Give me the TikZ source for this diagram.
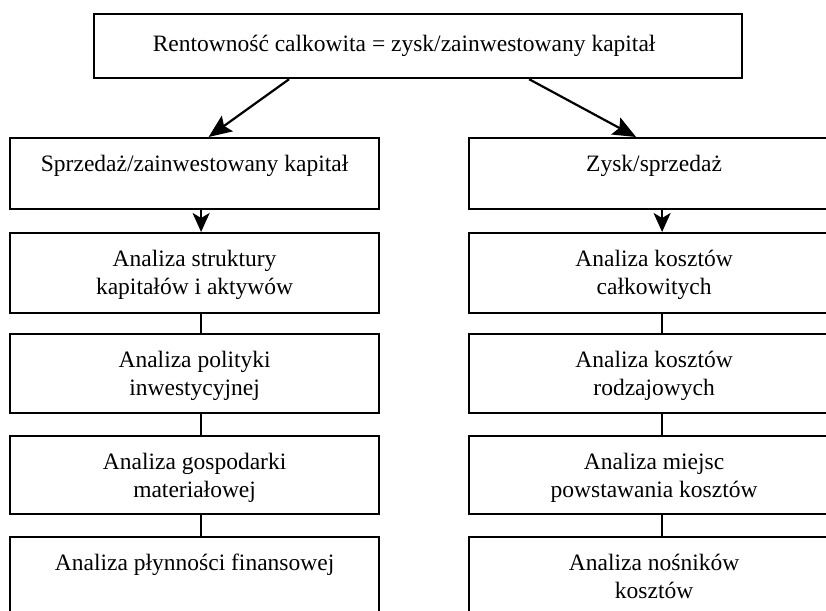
\documentclass[tikz,border=0pt]{standalone}
\usepackage{fontspec}
\setmainfont{Liberation Serif}
\usetikzlibrary{arrows.meta}

% text block of a fixed size, first baseline 33pt below the top edge
\newcommand\boxtext[3]{\parbox[c][#2][t]{#1}{\centering\rule{0pt}{33pt}#3}}

\begin{document}
\begin{tikzpicture}[x=1pt,y=-1pt,
  box/.style={draw, line width=2.2pt, inner sep=0pt, anchor=north west,
              font=\fontsize{23.5}{28}\selectfont},
  link/.style={line width=2.2pt},
  diag/.style={link, -{Stealth[length=23pt,width=19pt,inset=4pt]}},
  down/.style={link, -{Stealth[length=19pt,width=17pt,inset=5pt]}}]
\useasboundingbox (0,0) rectangle (826,610);
\clip (0,0) rectangle (826,610);

% top ratio
\node[box] (top) at (93,13)
  {\parbox[c][64pt][t]{648pt}{\centering\rule{0pt}{37pt}\hspace*{-14pt}Rentowność calkowita = zysk/zainwestowany kapitał\hspace*{14pt}}};

% left branch
\node[box] (l1) at (9,137)  {\boxtext{369pt}{71pt}{Sprzedaż/zainwestowany kapitał}};
\node[box] (l2) at (9,232)  {\boxtext{369pt}{80pt}{Analiza struktury\\kapitałów i aktywów}};
\node[box] (l3) at (9,333)  {\boxtext{369pt}{79pt}{Analiza polityki\\inwestycyjnej}};
\node[box] (l4) at (9,435)  {\boxtext{369pt}{78pt}{Analiza gospodarki\\materiałowej}};
\node[box] (l5) at (9,536)  {\boxtext{369pt}{79pt}{Analiza płynności finansowej}};

% right branch
\node[box] (r1) at (468,137) {\boxtext{370pt}{71pt}{Zysk/sprzedaż}};
\node[box] (r2) at (468,232) {\boxtext{370pt}{80pt}{Analiza kosztów\\całkowitych}};
\node[box] (r3) at (468,333) {\boxtext{370pt}{79pt}{Analiza kosztów\\rodzajowych}};
\node[box] (r4) at (468,435) {\boxtext{370pt}{78pt}{Analiza miejsc\\powstawania kosztów}};
\node[box] (r5) at (468,536) {\boxtext{370pt}{79pt}{Analiza nośników\\kosztów}};

% arrows from the top ratio
\draw[diag] ([xshift=-129pt]top.south) -- ([xshift=14pt]l1.north);
\draw[diag] ([xshift=111pt]top.south) -- ([xshift=-18pt]r1.north);

% left column
\draw[down] ([xshift=6.5pt]l1.south) -- ([xshift=6.5pt]l2.north);
\draw[link] ([xshift=6.5pt]l2.south) -- ([xshift=6.5pt]l3.north);
\draw[link] ([xshift=6.5pt]l3.south) -- ([xshift=6.5pt]l4.north);
\draw[link] ([xshift=6.5pt]l4.south) -- ([xshift=6.5pt]l5.north);

% right column
\draw[down] ([xshift=8pt]r1.south) -- ([xshift=8pt]r2.north);
\draw[link] ([xshift=8pt]r2.south) -- ([xshift=8pt]r3.north);
\draw[link] ([xshift=8pt]r3.south) -- ([xshift=8pt]r4.north);
\draw[link] ([xshift=8pt]r4.south) -- ([xshift=8pt]r5.north);
\end{tikzpicture}
\end{document}
